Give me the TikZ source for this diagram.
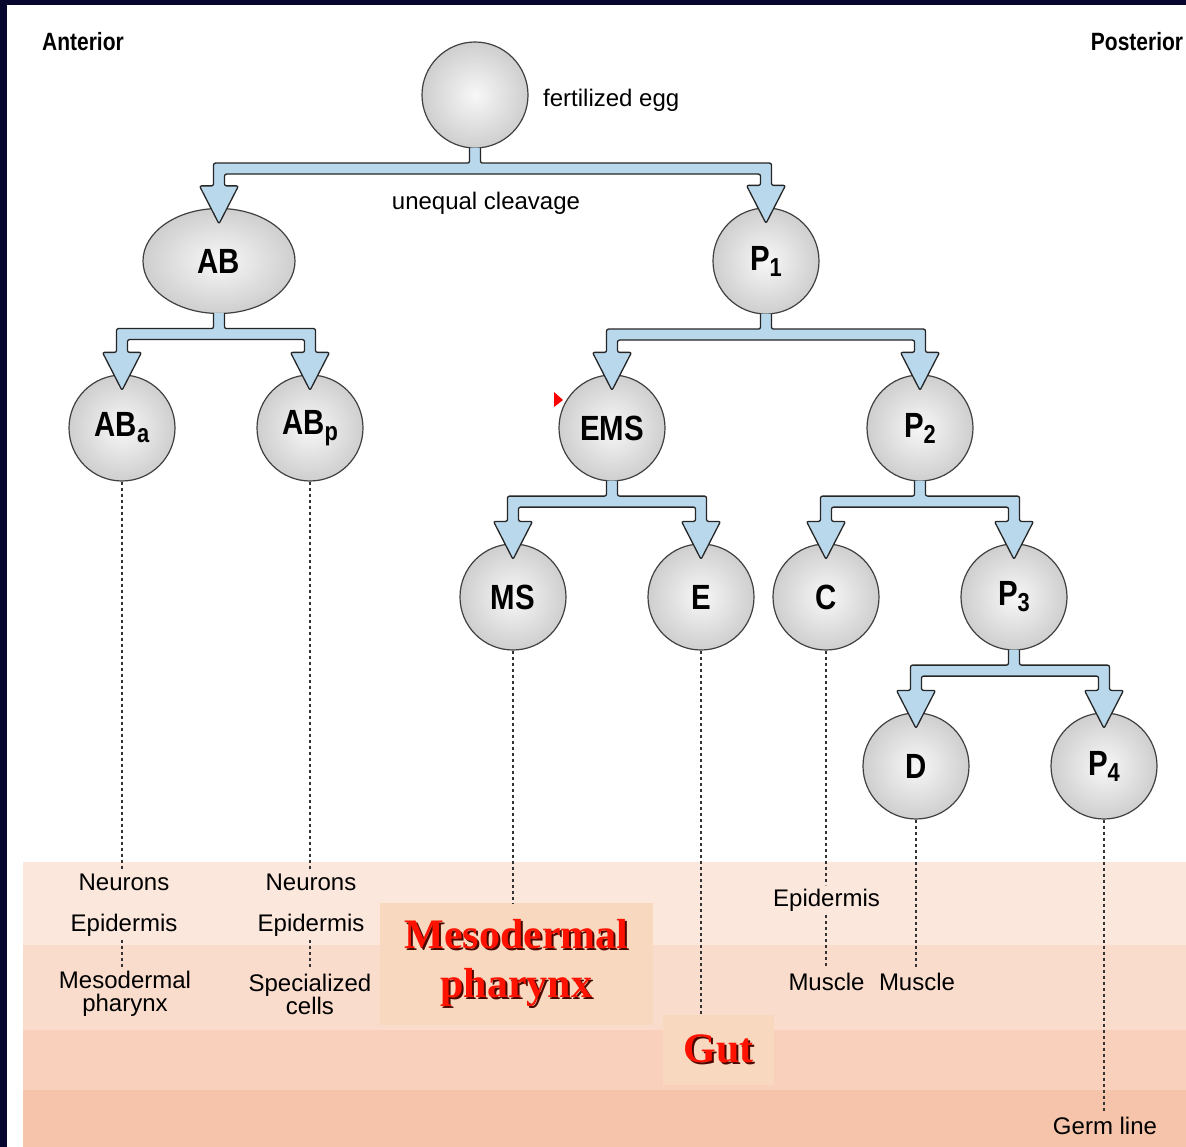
\documentclass[tikz,border=0pt]{standalone}
\usepackage{fontspec}
\setmainfont{Liberation Sans}
\newfontfamily\cellfont{Liberation Sans}[FakeStretch=0.84]
\newfontfamily\tissuefont{Liberation Serif}
\usetikzlibrary{shapes.geometric, calc}
\definecolor{framenavy}{HTML}{06062E}
\definecolor{tubeblue}{HTML}{B9D8EC}
\definecolor{bandA}{HTML}{FBE7DC}
\definecolor{bandB}{HTML}{F9DCCC}
\definecolor{bandC}{HTML}{F8D0BC}
\definecolor{bandD}{HTML}{F6C4AA}
\definecolor{boxpeach}{HTML}{F8D8BE}
\definecolor{tissuered}{HTML}{FF1200}
\definecolor{redshadow}{HTML}{4A0800}

% cleavage fork: parent, left daughter, right daughter
\newcommand{\cleave}[3]{%
  \filldraw[fork] let \p1=(#1.south), \p2=(#2.north), \p3=(#3.north) in
    (\x1-5.5pt,\y1+1pt) -- (\x1-5.5pt,\y1-14.5pt) -- (\x2-5.5pt,\y1-14.5pt)
    -- (\x2-5.5pt,\y2+22pt) -- (\x2-19.5pt,\y2+22pt) -- (\x2,\y2-16pt)
    -- (\x2+19.5pt,\y2+22pt) -- (\x2+5.5pt,\y2+22pt) -- (\x2+5.5pt,\y1-25.5pt)
    -- (\x3-5.5pt,\y1-25.5pt) -- (\x3-5.5pt,\y3+22pt) -- (\x3-19.5pt,\y3+22pt)
    -- (\x3,\y3-16pt) -- (\x3+19.5pt,\y3+22pt) -- (\x3+5.5pt,\y3+22pt)
    -- (\x3+5.5pt,\y1-14.5pt) -- (\x1+5.5pt,\y1-14.5pt) -- (\x1+5.5pt,\y1+1pt);}
\newcommand{\cellsub}[1]{\raisebox{-6pt}{\fontsize{26}{26}\selectfont #1}}
\newcommand{\redword}[1]{\makebox[0pt][l]{\kern2pt\raisebox{-2pt}{\textcolor{redshadow}{#1}}}\textcolor{tissuered}{#1}}

\begin{document}
\begin{tikzpicture}[x=1pt, y=-1pt,
  cell/.style={circle, draw=black!75, line width=1.2pt, inner sep=0pt, minimum size=106pt,
    inner color=gray!6, outer color=gray!38, font=\cellfont\bfseries\fontsize{35}{35}\selectfont},
  tissue/.style={font=\fontsize{24}{23}\selectfont, align=center, inner sep=4pt},
  heading/.style={font=\cellfont\bfseries\fontsize{25}{25}\selectfont},
  redbox/.style={fill=boxpeach, inner sep=0pt, align=center,
    font=\tissuefont\bfseries\fontsize{42}{49}\selectfont},
  lineage/.style={draw=black!80, line width=1.9pt, dash pattern=on 3pt off 3pt},
  fork/.style={fill=tubeblue, draw=black!85, line width=1.3pt, rounded corners=2pt, line join=round}]
\useasboundingbox (0,0) rectangle (1186,1147);
\fill[white] (0,0) rectangle (1186,1147);
\fill[framenavy] (0,0) rectangle (7,1147);
\fill[framenavy] (0,0) rectangle (1186,5);

% tissue bands
\fill[bandA] (23,862) rectangle (1186,945);
\fill[bandB] (23,945) rectangle (1186,1030);
\fill[bandC] (23,1030) rectangle (1186,1090);
\fill[bandD] (23,1090) rectangle (1186,1147);

\node[heading] (ant) at (83,42) {Anterior};
\node[heading] (post) at (1137,42) {Posterior};

% cells
\node[cell] (egg) at (475,95) {};
\node[cell, ellipse, minimum width=152pt, minimum height=105pt] (AB) at (219,261) {AB};
\node[cell] (P1) at (766,261) {P\cellsub{1}};
\node[cell] (ABa) at (122,428) {AB\cellsub{a}};
\node[cell] (ABp) at (310,428) {AB\cellsub{p}};
\node[cell] (EMS) at (612,428) {EMS};
\node[cell] (P2) at (920,428) {P\cellsub{2}};
\node[cell] (MS) at (513,597) {MS};
\node[cell] (E) at (701,597) {E};
\node[cell] (C) at (826,597) {C};
\node[cell] (P3) at (1014,597) {P\cellsub{3}};
\node[cell] (D) at (916,766) {D};
\node[cell] (P4) at (1104,766) {P\cellsub{4}};

\cleave{egg}{AB}{P1}
\cleave{AB}{ABa}{ABp}
\cleave{P1}{EMS}{P2}
\cleave{EMS}{MS}{E}
\cleave{P2}{C}{P3}
\cleave{P3}{D}{P4}

\fill[red] (554,392) -- (563,400) -- (554,407) -- cycle;

\node[tissue, anchor=west, inner sep=0pt] (egglbl) at (543,100) {fertilized egg};
\node[tissue] (cleav) at (486,203) {unequal cleavage};

% fates
\node[tissue] (neuA) at (124,882) {Neurons};
\node[tissue] (epiA) at (124,925) {Epidermis};
\node[tissue] (mesA) at (125,994) {Mesodermal\\pharynx};
\node[tissue] (neuP) at (311,882) {Neurons};
\node[tissue] (epiP) at (311,925) {Epidermis};
\node[tissue] (spcP) at (310,994) {Specialized\\cells};
\node[redbox, minimum width=273pt, minimum height=122pt] (meso) at (516.5,964) {\redword{Mesodermal}\\\redword{pharynx}};
\node[redbox, minimum width=111pt, minimum height=70pt] (gut) at (718.5,1050) {\redword{Gut}};
\node[tissue] (epiC) at (826.5,900) {Epidermis};
\node[tissue] (musC) at (826.5,982) {Muscle};
\node[tissue] (musD) at (917,982) {Muscle};
\node[tissue] (germ) at (1105,1126) {Germ line};

\draw[lineage] (ABa.south) -- (ABa.south |- neuA.north);
\draw[lineage] (epiA.south -| ABa.south) -- (ABa.south |- mesA.north);
\draw[lineage] (ABp.south) -- (ABp.south |- neuP.north);
\draw[lineage] (epiP.south -| ABp.south) -- (ABp.south |- spcP.north);
\draw[lineage] (MS.south) -- (MS.south |- meso.north);
\draw[lineage] (E.south) -- (E.south |- gut.north);
\draw[lineage] (C.south) -- (C.south |- epiC.north);
\draw[lineage] (epiC.south -| C.south) -- (C.south |- musC.north);
\draw[lineage] (D.south) -- (D.south |- musD.north);
\draw[lineage] (P4.south) -- (P4.south |- germ.north);
\end{tikzpicture}
\end{document}
